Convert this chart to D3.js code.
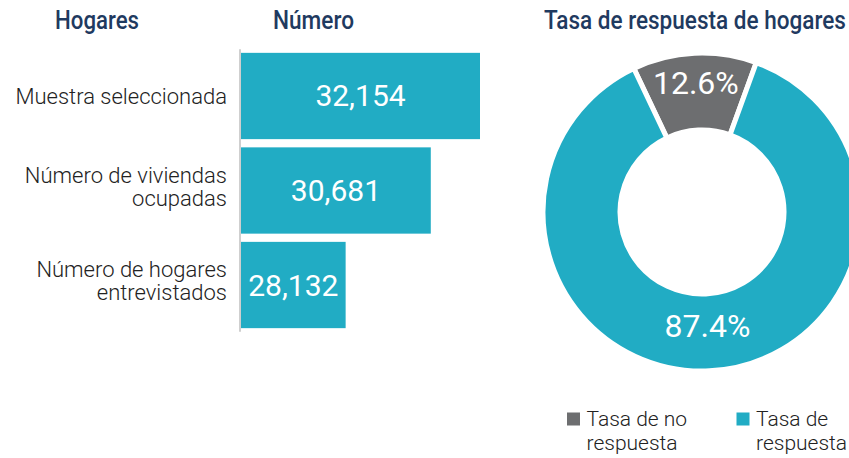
<!DOCTYPE html>
<html>
<head>
<meta charset="utf-8">
<script src="https://cdn.jsdelivr.net/npm/d3@7"></script>
<style>
  html, body { margin: 0; padding: 0; background: #fff; }
  svg { display: block; }
  text { font-family: Roboto, "Noto Sans", sans-serif; }
</style>
</head>
<body>
<svg id="chart" width="849" height="458"></svg>
<script>
// ---- Data ----
const categories = [
  ["Muestra seleccionada"],
  ["Número de viviendas", "ocupadas"],
  ["Número de hogares", "entrevistados"]
];
const barValues = [32154, 30681, 28132];
const pieLabels = ["Tasa de no respuesta", "Tasa de respuesta"];
const pieValues = [12.6, 87.4];
const legendLines = [["Tasa de no", "respuesta"], ["Tasa de", "respuesta"]];
const titles = ["Hogares", "Número", "Tasa de respuesta de hogares"];

// ---- Styles ----
const teal = "#21acc4";
const grey = "#6d6e70";
const navy = "#1f3a60";

const svg = d3.select("#chart");

// ---- Titles (condensed look via horizontal scale) ----
const titleSpecs = [
  {x: 55, w: 84}, {x: 273, w: 81}, {x: 544, w: 302}
];
titles.forEach((t, i) => {
  const g = svg.append("g");
  const txt = g.append("text")
    .attr("x", 0).attr("y", 0)
    .attr("font-size", 26).attr("font-weight", 500)
    .attr("fill", navy)
    .text(t);
  const natural = txt.node().getComputedTextLength();
  const sx = titleSpecs[i].w / natural;
  g.attr("transform", `translate(${titleSpecs[i].x},28.5) scale(${sx},1)`);
});

// ---- Bar chart ----
const x = d3.scaleLinear().domain([25000, 32154]).range([241, 480]);
const y = d3.scaleBand().domain(d3.range(barValues.length))
  .range([49.3, 331.7]).paddingInner(0.087).paddingOuter(0.0375);

svg.append("g").selectAll("rect").data(barValues).join("rect")
  .attr("x", x(25000))
  .attr("y", (d, i) => y(i))
  .attr("width", d => x(d) - x(25000))
  .attr("height", y.bandwidth())
  .attr("fill", teal);

svg.append("line")
  .attr("x1", 240).attr("x2", 240)
  .attr("y1", 49.3).attr("y2", 331.7)
  .attr("stroke", "#cfcfcf").attr("stroke-width", 2);

const fmt = d3.format(",");
svg.append("g").selectAll("text").data(barValues).join("text")
  .attr("x", d => (x(25000) + x(d)) / 2)
  .attr("y", (d, i) => y(i) + y.bandwidth() / 2 + 10.5)
  .attr("text-anchor", "middle")
  .attr("font-size", 30)
  .attr("fill", "#fff")
  .text(d => fmt(d));

categories.forEach((lines, i) => {
  const cy = y(i) + y.bandwidth() / 2;
  lines.forEach((ln, j) => {
    svg.append("text")
      .attr("text-anchor", "end")
      .attr("font-size", 22).attr("font-weight", 300)
      .attr("fill", "#222")
      .attr("x", 227)
      .attr("y", cy + 8.5 - (lines.length - 1) * 16.5 + j * 23)
      .text(ln);
  });
});

// ---- Donut ----
const cx = 702, cy = 212;
const pie = d3.pie().sort(null)
  .startAngle(-25.4 * Math.PI / 180)
  .endAngle(-25.4 * Math.PI / 180 + 2 * Math.PI);
const arcs = pie(pieValues);
const arc = d3.arc().innerRadius(82).outerRadius(159);
const g = svg.append("g").attr("transform", `translate(${cx},${cy})`);
const colors = [grey, teal];
g.selectAll("path").data(arcs).join("path")
  .attr("d", arc)
  .attr("fill", (d, i) => colors[i])
  .attr("stroke", "#fff").attr("stroke-width", 5)
  .attr("stroke-linejoin", "miter");

const labelRadius = [130, 114];
g.selectAll("text.pl").data(arcs).join("text")
  .attr("class", "pl")
  .attr("transform", (d, i) => {
    const a = (d.startAngle + d.endAngle) / 2;
    const r = labelRadius[i];
    return `translate(${r * Math.sin(a)},${-r * Math.cos(a) + 11.5})`;
  })
  .attr("text-anchor", "middle")
  .attr("font-size", 32)
  .attr("fill", "#fff")
  .text(d => d.data.toFixed(1) + "%");

// ---- Legend ----
const legendX = [567, 736.5];
legendLines.forEach((lines, i) => {
  svg.append("rect")
    .attr("x", legendX[i]).attr("y", 412.5)
    .attr("width", 13).attr("height", 13)
    .attr("fill", colors[i]);
  lines.forEach((ln, j) => {
    svg.append("text")
      .attr("font-size", 21).attr("font-weight", 300)
      .attr("fill", "#222")
      .attr("x", legendX[i] + 19.5)
      .attr("y", 426 + j * 24)
      .text(ln);
  });
});
</script>
</body>
</html>
